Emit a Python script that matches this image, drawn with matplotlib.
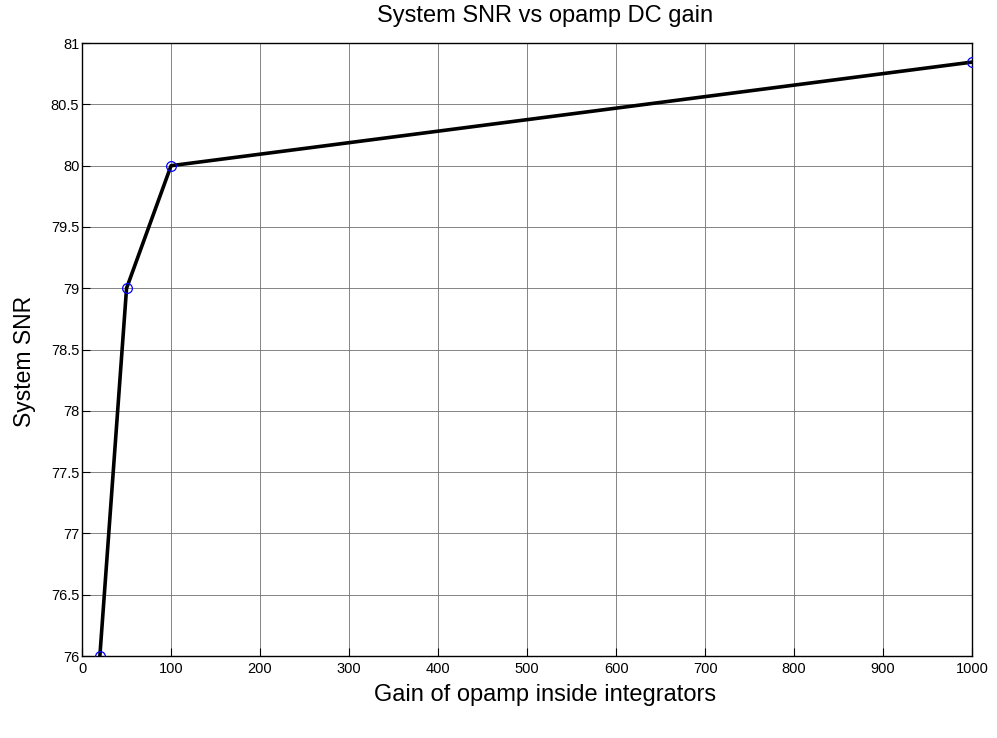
import matplotlib
matplotlib.use('Agg')
import matplotlib.pyplot as plt

gain = [20, 50, 100, 1000]
snr = [76, 79, 80, 80.845]

x_ticks = list(range(0, 1001, 100))
y_ticks = [76, 76.5, 77, 77.5, 78, 78.5, 79, 79.5, 80, 80.5, 81]

plt.rcParams['font.family'] = ['Liberation Sans', 'DejaVu Sans']

fig = plt.figure(figsize=(9.97, 7.38), dpi=100)
ax = fig.add_axes([0.0823, 0.111, 0.8927, 0.8306])

ax.plot(gain, snr, color='black', linewidth=2.6, zorder=3)
ax.plot(gain, snr, linestyle='none', marker='o', markersize=7,
        markerfacecolor='none', markeredgecolor='blue', markeredgewidth=0.9, zorder=4)

ax.set_xlim(0, 1000)
ax.set_ylim(76, 81)
ax.set_xticks(x_ticks)
ax.set_yticks(y_ticks)
ax.set_xticklabels([str(t) for t in x_ticks])
ax.set_yticklabels([('%g' % t) for t in y_ticks])
ax.tick_params(direction='in', length=6, width=0.8, labelsize=10.5, pad=2)
ax.tick_params(axis='x', pad=4)
ax.grid(True, color='#707070', linewidth=0.6)
for s in ax.spines.values():
    s.set_linewidth(1.0)

ax.set_title('System SNR vs opamp DC gain', fontsize=17, pad=15, x=0.52)
ax.set_xlabel('Gain of opamp inside integrators', fontsize=17)
ax.xaxis.set_label_coords(0.52, -0.046)
ax.set_ylabel('System SNR', fontsize=16.5)
ax.yaxis.set_label_coords(-0.052, 0.48)

fig.savefig('out.png', dpi=100)
